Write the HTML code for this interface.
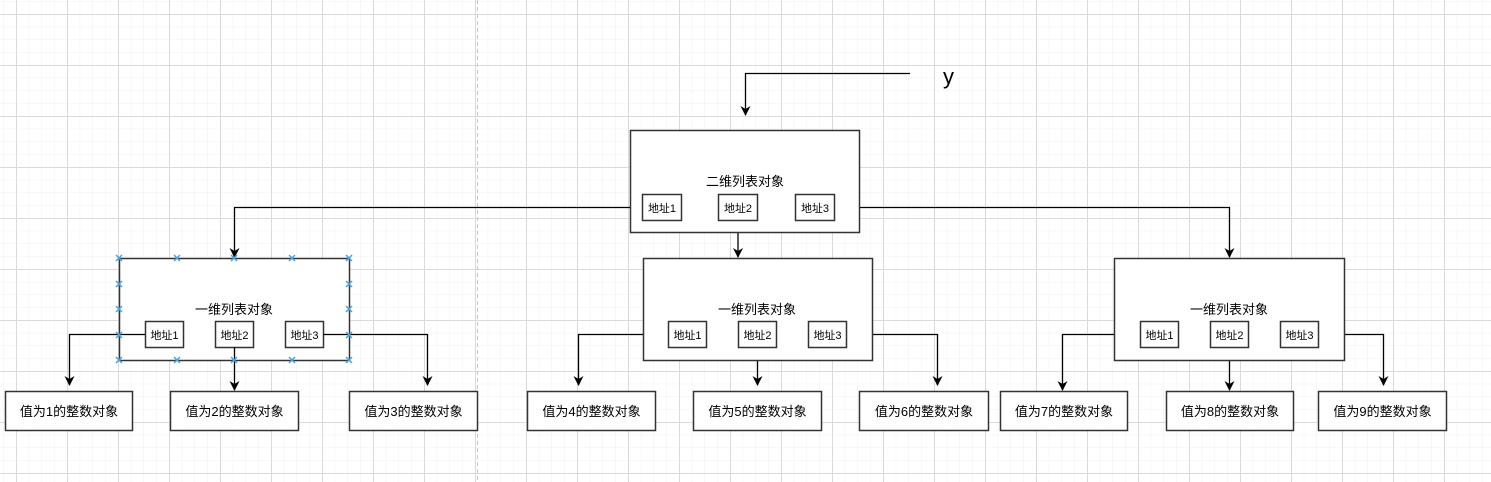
<!DOCTYPE html>
<html><head><meta charset="utf-8"><style>
html,body{margin:0;padding:0;background:#fff;}
svg{display:block;}
text{font-family:"Liberation Sans","Noto Sans CJK SC",sans-serif;fill:#000;}
</style></head><body>
<svg width="1491" height="482" viewBox="0 0 1491 482" xmlns="http://www.w3.org/2000/svg">
<defs>
<pattern id="minor" x="3.25" y="1.25" width="12.75" height="12.75" patternUnits="userSpaceOnUse">
<path d="M0 0H12.75M0 0V12.75" stroke="#f0f0f0" stroke-width="1" fill="none"/>
</pattern>
<pattern id="major" x="16" y="14" width="51" height="51" patternUnits="userSpaceOnUse">
<path d="M0 0.5H51M0.5 0V51" stroke="#dadada" stroke-width="1" fill="none"/>
</pattern>
<marker id="ar" viewBox="0 0 10 10" refX="9" refY="5" markerWidth="10" markerHeight="10" markerUnits="userSpaceOnUse" orient="auto">
<path d="M0 0L10 5L0 10L3 5Z" fill="#000"/>
</marker>
<g id="x"><path d="M-3 -3L3 3M-3 3L3 -3" stroke="#4aa3df" stroke-width="1.5"/></g>
</defs>
<rect width="1491" height="482" fill="#fff"/>
<rect width="1491" height="482" fill="url(#minor)"/>
<rect width="1491" height="482" fill="url(#major)"/>
<line x1="477.5" y1="0" x2="477.5" y2="482" stroke="#c8c8c8" stroke-dasharray="4 3"/>

<g fill="none" stroke="#000" stroke-width="1.3">
<path d="M910 73.5H745.5V115" marker-end="url(#ar)"/>
<path d="M642 207.5H234.5V257" marker-end="url(#ar)"/>
<path d="M738 220V257" marker-end="url(#ar)"/>
<path d="M834 207.5H1229.5V257" marker-end="url(#ar)"/>
<path d="M145 334.5H69.5V385" marker-end="url(#ar)"/>
<path d="M234.5 347V390" marker-end="url(#ar)"/>
<path d="M323 334.5H427.5V385" marker-end="url(#ar)"/>
<path d="M668 334.5H578.5V385" marker-end="url(#ar)"/>
<path d="M757.5 347V385" marker-end="url(#ar)"/>
<path d="M846 334.5H937.5V385" marker-end="url(#ar)"/>
<path d="M1140 334.5H1062.5V390" marker-end="url(#ar)"/>
<path d="M1229.5 347V390" marker-end="url(#ar)"/>
<path d="M1318 334.5H1383.5V385" marker-end="url(#ar)"/>
</g>

<g fill="#fff" stroke="#333" stroke-width="1.5">
<rect x="630.5" y="130.5" width="229" height="102"/>
<rect x="119.5" y="258.5" width="230" height="102"/>
<rect x="643.5" y="258.5" width="229" height="102"/>
<rect x="1114.5" y="258.5" width="230" height="102"/>
<rect x="642.5" y="194.5" width="39" height="26"/>
<rect x="718.5" y="194.5" width="39" height="26"/>
<rect x="795.5" y="194.5" width="39" height="26"/>
<rect x="145.5" y="321.5" width="38" height="26"/>
<rect x="215.5" y="321.5" width="38" height="26"/>
<rect x="285.5" y="321.5" width="38" height="26"/>
<rect x="668.5" y="321.5" width="38" height="26"/>
<rect x="738.5" y="321.5" width="38" height="26"/>
<rect x="808.5" y="321.5" width="38" height="26"/>
<rect x="1140.5" y="321.5" width="38" height="26"/>
<rect x="1210.5" y="321.5" width="38" height="26"/>
<rect x="1280.5" y="321.5" width="38" height="26"/>
<rect x="5.5" y="391.5" width="127" height="39"/>
<rect x="170.5" y="391.5" width="128" height="39"/>
<rect x="349.5" y="391.5" width="128" height="39"/>
<rect x="527.5" y="391.5" width="128" height="39"/>
<rect x="693.5" y="391.5" width="128" height="39"/>
<rect x="859.5" y="391.5" width="129" height="39"/>
<rect x="1000.5" y="391.5" width="127" height="39"/>
<rect x="1166.5" y="391.5" width="127" height="39"/>
<rect x="1318.5" y="391.5" width="128" height="39"/>
</g>
<path d="M145 334.5H119M323 334.5H349M234.5 347V360" stroke="#000" stroke-width="1.3"/>

<g>
<use href="#x" x="119" y="258"/><use href="#x" x="177" y="258"/><use href="#x" x="234" y="258"/><use href="#x" x="292" y="258"/><use href="#x" x="349" y="258"/>
<use href="#x" x="119" y="284"/><use href="#x" x="119" y="309"/><use href="#x" x="119" y="335"/><use href="#x" x="119" y="360"/>
<use href="#x" x="349" y="284"/><use href="#x" x="349" y="309"/><use href="#x" x="349" y="335"/><use href="#x" x="349" y="360"/>
<use href="#x" x="177" y="360"/><use href="#x" x="234" y="360"/><use href="#x" x="292" y="360"/>
</g>

<text x="943" y="84" font-size="22">y</text>
<g font-size="13" text-anchor="middle">
<text x="745" y="186">二维列表对象</text>
<text x="234" y="314">一维列表对象</text>
<text x="757" y="314">一维列表对象</text>
<text x="1229" y="314">一维列表对象</text>
</g>
<g font-size="11" text-anchor="middle">
<text x="662" y="212">地址1</text><text x="738" y="212">地址2</text><text x="815" y="212">地址3</text>
<text x="164.5" y="339">地址1</text><text x="234.5" y="339">地址2</text><text x="304.5" y="339">地址3</text>
<text x="687.5" y="339">地址1</text><text x="757.5" y="339">地址2</text><text x="827.5" y="339">地址3</text>
<text x="1159.5" y="339">地址1</text><text x="1229.5" y="339">地址2</text><text x="1299.5" y="339">地址3</text>
</g>
<g font-size="13" text-anchor="middle">
<text x="69" y="416">值为1的整数对象</text>
<text x="234.5" y="416">值为2的整数对象</text>
<text x="413.5" y="416">值为3的整数对象</text>
<text x="591.5" y="416">值为4的整数对象</text>
<text x="757.5" y="416">值为5的整数对象</text>
<text x="924" y="416">值为6的整数对象</text>
<text x="1064" y="416">值为7的整数对象</text>
<text x="1230" y="416">值为8的整数对象</text>
<text x="1382.5" y="416">值为9的整数对象</text>
</g>
</svg>
</body></html>
